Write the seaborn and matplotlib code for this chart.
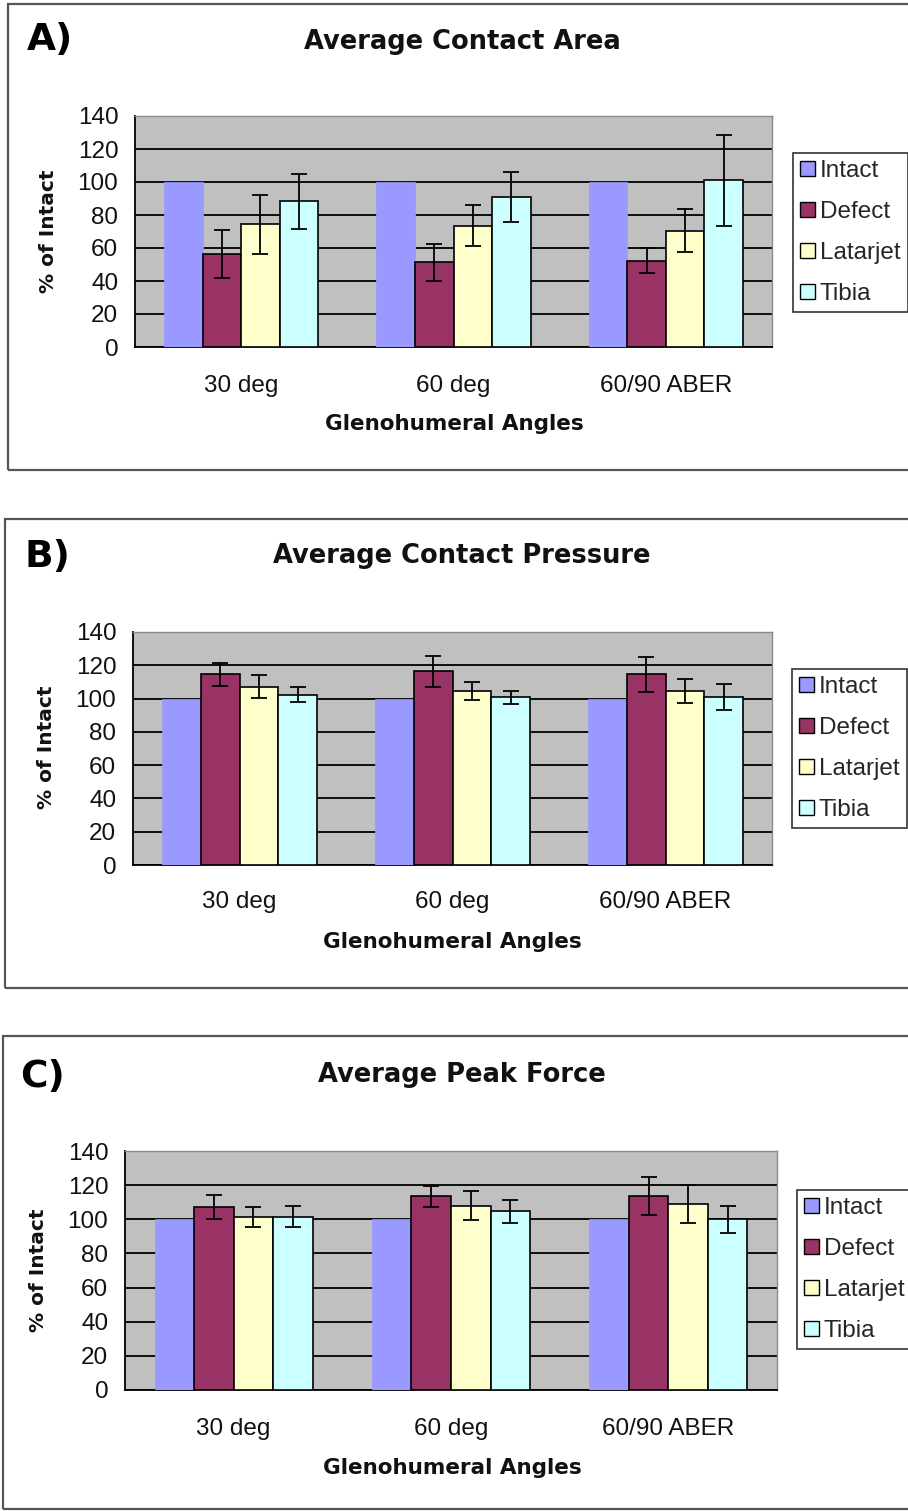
import numpy as np
import pandas as pd
import matplotlib
matplotlib.use("Agg")
import matplotlib.pyplot as plt
import seaborn as sns
from matplotlib.patches import Rectangle, Patch
from matplotlib.ticker import FixedLocator
from matplotlib.container import BarContainer

# ---------------- data ----------------
angles = ["30 deg", "60 deg", "60/90 ABER"]
groups = ["Intact", "Defect", "Latarjet", "Tibia"]
colors = ["#9999FF", "#993366", "#FFFFCC", "#CCFFFF"]
yticks = [0, 20, 40, 60, 80, 100, 120, 140]

# A) Average Contact Area
area_intact = [100, 100, 100]
area_defect = [56.2, 51.3, 52.3]
area_latarjet = [74.4, 73.4, 70.6]
area_tibia = [88.2, 90.9, 101.0]
area_defect_err = [14.5, 11.2, 7.7]
area_latarjet_err = [18.0, 12.4, 12.8]
area_tibia_err = [16.7, 15.2, 27.7]

# B) Average Contact Pressure
press_intact = [100, 100, 100]
press_defect = [114.5, 116.3, 114.5]
press_latarjet = [107.2, 104.6, 104.6]
press_tibia = [102.4, 100.8, 101.0]
press_defect_err = [7.0, 9.2, 10.5]
press_latarjet_err = [6.7, 5.6, 7.0]
press_tibia_err = [4.6, 4.0, 7.8]

# C) Average Peak Force
force_intact = [100, 100, 100]
force_defect = [107.2, 113.5, 113.5]
force_latarjet = [101.4, 108.0, 109.0]
force_tibia = [101.6, 104.7, 100.0]
force_defect_err = [6.8, 6.1, 11.1]
force_latarjet_err = [6.0, 8.5, 11.3]
force_tibia_err = [6.4, 6.8, 7.8]

panels = [
    dict(letter="A)", title="Average Contact Area",
         vals=[area_intact, area_defect, area_latarjet, area_tibia],
         errs=[None, area_defect_err, area_latarjet_err, area_tibia_err]),
    dict(letter="B)", title="Average Contact Pressure",
         vals=[press_intact, press_defect, press_latarjet, press_tibia],
         errs=[None, press_defect_err, press_latarjet_err, press_tibia_err]),
    dict(letter="C)", title="Average Peak Force",
         vals=[force_intact, force_defect, force_latarjet, force_tibia],
         errs=[None, force_defect_err, force_latarjet_err, force_tibia_err]),
]

# ---------------- layout (pixels) ----------------
W, H = 908, 1511
sns.set_style("white")
plt.rcParams["font.family"] = ["Liberation Sans", "DejaVu Sans"]

fig = plt.figure(figsize=(W / 100, H / 100), dpi=100)

def fx(px):
    return px / W

def fy(py):
    return 1 - py / H

layout = [
    dict(ax=(135, 116, 772, 347), box=(8, 4, 912, 470), letter=(27, 40), title=(462, 42),
         ylab=(48, 231), xtick_y=381, xlab=(454, 424), leg=(793, 153)),
    dict(ax=(133, 632, 772, 865), box=(5, 519, 912, 988), letter=(25, 557), title=(462, 556),
         ylab=(46, 747), xtick_y=898, xlab=(452, 942), leg=(792, 669)),
    dict(ax=(125, 1151, 777, 1390), box=(3, 1036, 912, 1509), letter=(20, 1077), title=(462, 1075),
         ylab=(38, 1270), xtick_y=1424, xlab=(452, 1468), leg=(797, 1190)),
]

bold_font = "DejaVu Sans"

for p, L in zip(panels, layout):
    x0, y0, x1, y1 = L["ax"]
    ax = fig.add_axes([fx(x0), fy(y1), fx(x1 - x0), (y1 - y0) / H])

    # panel frame
    bx0, by0, bx1, by1 = L["box"]
    fig.patches.append(Rectangle((fx(bx0), fy(by1)), fx(bx1 - bx0), (by1 - by0) / H,
                                 transform=fig.transFigure, fill=False,
                                 edgecolor="#555555", lw=1.6, zorder=0))

    rows = []
    for g, vals in zip(groups, p["vals"]):
        for a, v in zip(angles, vals):
            rows.append(dict(angle=a, group=g, value=v))
    df = pd.DataFrame(rows)

    sns.barplot(data=df, x="angle", y="value", hue="group", order=angles,
                hue_order=groups, palette=colors, width=0.727, gap=0,
                errorbar=None, saturation=1, legend=False, ax=ax, zorder=3)

    bar_conts = [c for c in ax.containers if isinstance(c, BarContainer)]
    for i, cont in enumerate(bar_conts):
        bars = [b for b in cont if b is not None]
        for bar in bars:
            if i == 0:
                bar.set_edgecolor(colors[0])
                bar.set_linewidth(0.5)
            else:
                bar.set_edgecolor("black")
                bar.set_linewidth(1.2)
        errs = p["errs"][i]
        if errs is not None:
            xs = [b.get_x() + b.get_width() / 2 for b in bars]
            ys = [b.get_height() for b in bars]
            ax.errorbar(xs, ys, yerr=errs, fmt="none", ecolor="black",
                        elinewidth=1.3, capsize=6, capthick=1.3, zorder=4)

    ax.set_facecolor("#C0C0C0")
    ax.set_ylim(0, 140)
    ax.set_xlim(-0.5, 2.5)
    ax.set_yticks(yticks)
    ax.set_yticklabels([str(t) for t in yticks], fontsize=17.5, color="#111111")
    ax.yaxis.grid(True, color="black", lw=1.3, zorder=1)
    ax.set_axisbelow(True)

    ax.set_xticks(range(len(angles)))
    ax.set_xticklabels(angles, fontsize=17.5, color="#111111")
    ax.xaxis.set_minor_locator(FixedLocator([-0.5, 0.5, 1.5, 2.5]))
    ax.tick_params(axis="x", which="major", length=0, pad=(L["xtick_y"] - y1) - 14)
    ax.tick_params(axis="x", which="minor", length=7, width=1.2, direction="out", color="black")
    ax.tick_params(axis="y", which="major", length=6, width=1.2, direction="out",
                   color="black", pad=6)

    for s in ["left", "bottom"]:
        ax.spines[s].set_color("black")
        ax.spines[s].set_linewidth(1.3)
    for s in ["top", "right"]:
        ax.spines[s].set_visible(True)
        ax.spines[s].set_color("#8a8a8a")
        ax.spines[s].set_linewidth(1.0)

    ax.set_xlabel("")
    ax.set_ylabel("")

    fig.text(fx(L["xlab"][0]), fy(L["xlab"][1]), "Glenohumeral Angles",
             family=bold_font, fontweight="bold", fontsize=15.5,
             ha="center", va="center", color="#111111")
    fig.text(fx(L["ylab"][0]), fy(L["ylab"][1]), "% of Intact",
             family=bold_font, fontweight="bold", fontsize=14.5, rotation=90,
             ha="center", va="center", color="#111111")
    fig.text(fx(L["title"][0]), fy(L["title"][1]), p["title"],
             family=bold_font, fontweight="bold", fontsize=18.5,
             ha="center", va="center", color="#111111")
    fig.text(fx(L["letter"][0]), fy(L["letter"][1]), p["letter"],
             family=bold_font, fontweight="bold", fontsize=27,
             ha="left", va="center", color="black")

    handles = [Patch(facecolor=c, edgecolor="black", lw=1.0) for c in colors]
    leg = fig.legend(handles, groups, loc="upper left",
                     bbox_to_anchor=(fx(L["leg"][0]), fy(L["leg"][1])),
                     bbox_transform=fig.transFigure, fontsize=17.5,
                     handlelength=0.6, handleheight=0.6, handletextpad=0.2,
                     labelspacing=0.78, borderpad=0.3, borderaxespad=0,
                     frameon=True, fancybox=False, edgecolor="black")
    leg.get_frame().set_linewidth(1.2)

fig.savefig("out.png", dpi=100, facecolor="white")
